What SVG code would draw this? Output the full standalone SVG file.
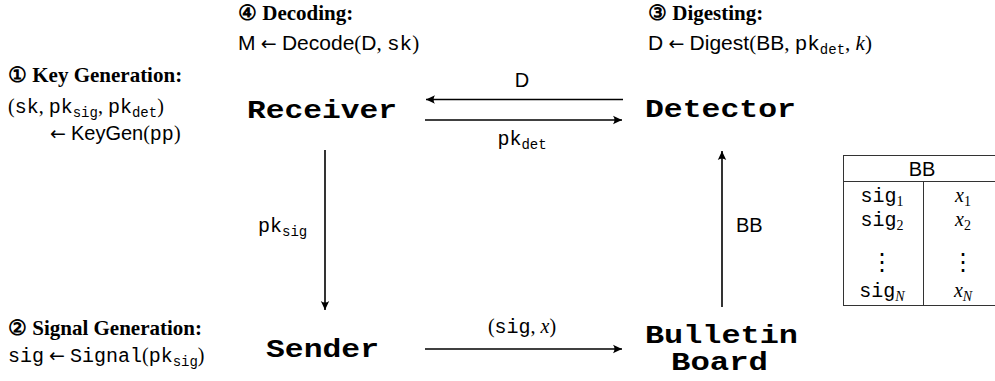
<svg xmlns="http://www.w3.org/2000/svg" width="995" height="381" viewBox="0 0 995 381">
<defs>
<style>
.t{font-family:"Liberation Serif","DejaVu Serif",serif;font-weight:bold;font-size:21px;fill:#000}
.m{font-family:"Liberation Serif","DejaVu Serif",serif;font-size:20px;fill:#000}
.f{font-size:21px}
.sf{font-family:"Liberation Sans","DejaVu Sans",sans-serif}
.ar{font-family:"DejaVu Sans",sans-serif;font-size:19px}
.tt{font-family:"Liberation Mono","DejaVu Sans Mono",monospace}
.it{font-style:italic}
.sub{font-size:14px}
.node{font-family:"Liberation Mono","DejaVu Sans Mono",monospace;font-weight:bold;font-size:25px;fill:#000}
.ln{stroke:#000;stroke-width:1.6;fill:none}
.tb{stroke:#333;stroke-width:1;fill:none}
.dots{font-family:"DejaVu Sans",sans-serif;font-size:24px;text-anchor:middle;fill:#000}
</style>
<marker id="ah" viewBox="-10 -5 11 10" refX="0" refY="0" markerWidth="11" markerHeight="10" markerUnits="userSpaceOnUse" orient="auto">
<path d="M0,0 L-9,-4.2 Q-6,0 -9,4.2 Z" fill="#000"/>
</marker>
</defs>

<g id="labels">
<text class="t" x="8" y="82">① Key Generation:</text>
<text class="m" x="8" y="113">(<tspan class="tt">sk</tspan>, <tspan class="tt">pk</tspan><tspan class="tt sub" dy="4">sig</tspan><tspan dy="-4">, </tspan><tspan class="tt">pk</tspan><tspan class="tt sub" dy="4">det</tspan><tspan dy="-4">)</tspan></text>
<text class="m" x="50" y="140"><tspan class="ar">←</tspan> <tspan class="sf">KeyGen</tspan>(<tspan class="tt">pp</tspan>)</text>

<text class="t" x="238" y="20">④ Decoding:</text>
<text class="m f" x="238" y="50"><tspan class="sf">M</tspan> <tspan class="ar">←</tspan> <tspan class="sf">Decode</tspan>(<tspan class="sf">D</tspan>, <tspan class="tt">sk</tspan>)</text>

<text class="t" x="648" y="20">③ Digesting:</text>
<text class="m f" x="648" y="50"><tspan class="sf">D</tspan> <tspan class="ar">←</tspan> <tspan class="sf">Digest</tspan>(<tspan class="sf">BB</tspan>, <tspan class="tt">pk</tspan><tspan class="tt sub" dy="4">det</tspan><tspan dy="-4">, </tspan><tspan class="it">k</tspan>)</text>

<text class="t" x="8" y="335">② Signal Generation:</text>
<text class="m" x="8" y="362"><tspan class="tt">sig</tspan> <tspan class="ar">←</tspan> <tspan class="tt">Signal</tspan>(<tspan class="tt">pk</tspan><tspan class="tt sub" dy="4">sig</tspan><tspan dy="-4">)</tspan></text>
</g>

<g id="receiver"><text class="node" x="247" y="118" textLength="150" lengthAdjust="spacingAndGlyphs">Receiver</text></g>
<g id="detector"><text class="node" x="645" y="117" textLength="151" lengthAdjust="spacingAndGlyphs">Detector</text></g>
<g id="sender"><text class="node" x="266" y="357" textLength="113" lengthAdjust="spacingAndGlyphs">Sender</text></g>
<g id="bulletin-board"><text class="node" x="645" y="343" textLength="153" lengthAdjust="spacingAndGlyphs">Bulletin</text><text class="node" x="671" y="370" textLength="97" lengthAdjust="spacingAndGlyphs">Board</text></g>

<g id="connectors">
<line class="ln" x1="623" y1="99.5" x2="426" y2="99.5" marker-end="url(#ah)"/>
<line class="ln" x1="425" y1="120" x2="622" y2="120" marker-end="url(#ah)"/>
<line class="ln" x1="325" y1="150" x2="325" y2="310" marker-end="url(#ah)"/>
<line class="ln" x1="425" y1="349" x2="622" y2="349" marker-end="url(#ah)"/>
<line class="ln" x1="722" y1="307" x2="722" y2="151" marker-end="url(#ah)"/>
<text class="m sf" x="522" y="87" text-anchor="middle">D</text>
<text class="m" x="522" y="145" text-anchor="middle"><tspan class="tt">pk</tspan><tspan class="tt sub" dy="4">det</tspan></text>
<text class="m" x="258" y="232"><tspan class="tt">pk</tspan><tspan class="tt sub" dy="4">sig</tspan></text>
<text class="m sf" x="736" y="232">BB</text>
<text class="m" x="522" y="333" text-anchor="middle">(<tspan class="tt">sig</tspan>, <tspan class="it">x</tspan>)</text>
</g>

<g id="bb-table">
<rect class="tb" x="843.5" y="155.5" width="160" height="150"/>
<line class="tb" x1="843.5" y1="181.5" x2="1003" y2="181.5"/>
<line class="tb" x1="923.5" y1="181.5" x2="923.5" y2="305.5"/>
<text class="m sf" x="922" y="176" text-anchor="middle">BB</text>
<text class="m" x="882" y="202" text-anchor="middle"><tspan class="tt">sig</tspan><tspan class="sub" dy="4">1</tspan></text>
<text class="m" x="882" y="226" text-anchor="middle"><tspan class="tt">sig</tspan><tspan class="sub" dy="4">2</tspan></text>
<text class="m" x="882" y="297" text-anchor="middle"><tspan class="tt">sig</tspan><tspan class="sub it" dy="4">N</tspan></text>
<text class="m" x="963" y="202" text-anchor="middle"><tspan class="it">x</tspan><tspan class="sub" dy="4">1</tspan></text>
<text class="m" x="963" y="226" text-anchor="middle"><tspan class="it">x</tspan><tspan class="sub" dy="4">2</tspan></text>
<text class="m" x="963" y="297" text-anchor="middle"><tspan class="it">x</tspan><tspan class="sub it" dy="4">N</tspan></text>
<text class="dots" x="882" y="270">⋮</text>
<text class="dots" x="963" y="270">⋮</text>
</g>
</svg>
